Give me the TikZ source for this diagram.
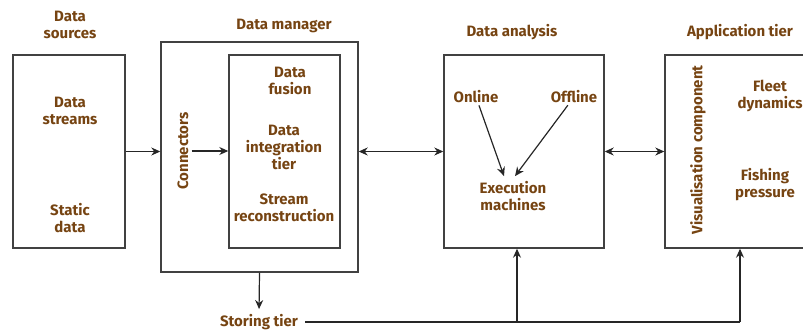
\documentclass[tikz,border=0pt]{standalone}
\usepackage{fontspec}
\setmainfont{Fira Sans}
\usepackage{xcolor}
\usetikzlibrary{arrows.meta, positioning}

\definecolor{labelbrown}{RGB}{118,68,18}
\definecolor{boxgray}{RGB}{65,65,65}

\begin{document}
\begin{tikzpicture}[x=1pt, y=-1pt, >={Stealth[length=9pt, width=8pt]},
        lbl/.style={text=labelbrown, font=\bfseries\fontsize{15}{17}\selectfont, align=center, inner sep=1pt},
        blk/.style={draw=boxgray, line width=1.4pt, inner sep=0pt},
        conn/.style={draw=black!85, line width=1.2pt}]
        \useasboundingbox (0,0) rectangle (803,330);

        % boxes
        \node[blk, minimum width=112, minimum height=193] (src) at (69,151.5) {};
        \node[blk, minimum width=197, minimum height=230] (mgr) at (259.5,157) {};
        \node[blk, minimum width=111, minimum height=193] (tier) at (284.5,151.5) {};
        \node[blk, minimum width=160, minimum height=193] (ana) at (524,151.5) {};
        \node[blk, minimum width=141, minimum height=193] (app) at (735.5,151.5) {};

        % titles
        \node[lbl] (srct) at (70,25) {Data\\sources};
        \node[lbl] (mgrt) at (284,26) {Data manager};
        \node[lbl] (anat) at (512,32) {Data analysis};
        \node[lbl] (appt) at (740,32) {Application tier};

        % labels inside
        \node[lbl] (strm) at (70,111) {Data\\streams};
        \node[lbl] (stat) at (70,218) {Static\\data};
        \node[lbl, rotate=90] (cnx) at (183,151) {Connectors};
        \node[lbl] (fus) at (290,81) {Data\\fusion};
        \node[lbl] (integ) at (284,147) {Data\\integration\\tier};
        \node[lbl] (recon) at (284,208) {Stream\\reconstruction};
        \node[lbl] (onl) at (476,97) {Online};
        \node[lbl] (off) at (574,97) {Offline};
        \node[lbl] (exe) at (513,196) {Execution\\machines};
        \node[lbl, rotate=90] (vis) at (698,150) {Visualisation component};
        \node[lbl] (fleet) at (770,96) {Fleet\\dynamics};
        \node[lbl] (fish) at (765,185) {Fishing\\pressure};
        \node[lbl] (store) at (259,322) {Storing tier};

        \coordinate (j1) at (517,322);
        \coordinate (j2) at (740,322);

        % connectors
        \draw[conn, ->] (src.east) -- (src.east -| mgr.west);
        \draw[conn, ->] ([xshift=2pt]cnx.south) -- (cnx.south -| tier.west);
        \draw[conn, <->] (ana.west -| mgr.east) -- (ana.west);
        \draw[conn, <->] (ana.east) -- (app.west);
        \draw[conn, ->, shorten <=1pt] (onl) -- ([xshift=-9pt, yshift=4pt]exe.north);
        \draw[conn, ->, shorten <=1pt] (off) -- ([xshift=2pt, yshift=4pt]exe.north);
        \draw[conn, ->, shorten >=4pt] (mgr.south) -- (store.north);
        \draw[conn, shorten <=6pt] (store.east) -- (store.east -| j2);
        \draw[conn, ->] (store.east -| j1) -- (j1 |- ana.south);
        \draw[conn, ->] (store.east -| j2) -- (j2 |- app.south);
\end{tikzpicture}
\end{document}
